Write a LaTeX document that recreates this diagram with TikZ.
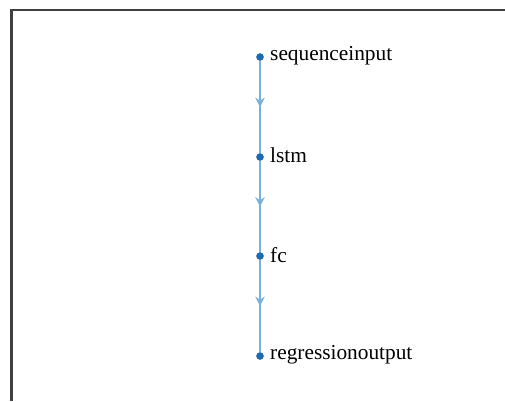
\documentclass[tikz,border=0pt]{standalone}
\usepackage{fontspec}
\setmainfont{Liberation Serif}
\usetikzlibrary{decorations.markings,arrows.meta}
\definecolor{edgeblue}{HTML}{7AB0DC}
\definecolor{dotblue}{HTML}{1F6AAE}
\definecolor{framegray}{HTML}{404040}
\tikzset{
  layer/.style={circle,fill=dotblue,inner sep=0pt,minimum size=5.5pt,
    label={[font=\fontsize{16}{19}\selectfont,anchor=west,inner sep=0pt,xshift=4.5pt,yshift=1pt]east:#1}},
  edge/.style={draw=edgeblue,line width=1.8pt,
    postaction={decorate},
    decoration={markings,mark=at position 0.5 with {\arrow[edgeblue]{Stealth[length=7pt,width=7pt]}}}}
}
\begin{document}
\begin{tikzpicture}[x=0.75pt,y=-0.75pt]
\useasboundingbox (0,0) rectangle (505,401);
\draw[framegray,line width=1.6pt] (11.5,401) -- (11.5,10) -- (505,10);
\node[layer=sequenceinput] (n1) at (260,57) {};
\node[layer=lstm] (n2) at (260,157) {};
\node[layer=fc] (n3) at (260,256) {};
\node[layer=regressionoutput] (n4) at (260,356) {};
\draw[edge] (n1) -- (n2);
\draw[edge] (n2) -- (n3);
\draw[edge] (n3) -- (n4);
\foreach \n in {n1,n2,n3,n4} \node[circle,fill=dotblue,inner sep=0pt,minimum size=5.5pt] at (\n) {};
\end{tikzpicture}
\end{document}
